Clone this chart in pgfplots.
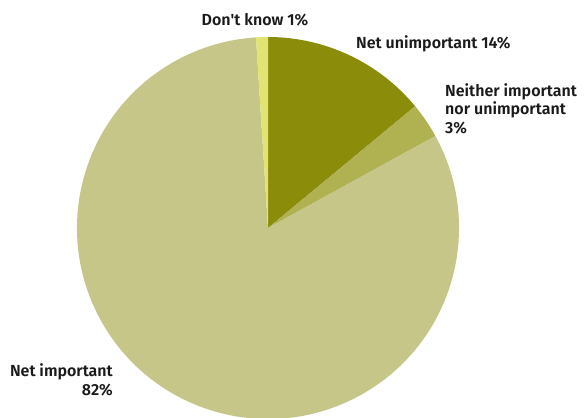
\documentclass[border=0pt]{standalone}
\usepackage{pgfplots}
\usepackage{pgfplotstable}
\pgfplotsset{compat=1.18}
\usepackage{fontspec}
\setmainfont{Fira Sans}[Ligatures=TeXOff, BoldFont={Fira Sans SemiBold}]
\definecolor{cUnimp}{RGB}{139,140,10}
\definecolor{cNeither}{RGB}{176,177,80}
\definecolor{cImp}{RGB}{197,198,135}
\definecolor{cDK}{RGB}{225,228,115}
\definecolor{txt}{RGB}{26,26,26}
\pgfplotstableread{
label value
unimp 14
neither 3
imp 82
dk 1
}\piedata
\begin{document}
\begin{tikzpicture}[x=1bp,y=1bp]
\useasboundingbox (0,0) rectangle (586,417);
\clip (0,0) rectangle (586,417);
\pgfplotstablegetelem{0}{value}\of\piedata \edef\vA{\pgfplotsretval}
\pgfplotstablegetelem{1}{value}\of\piedata \edef\vB{\pgfplotsretval}
\pgfplotstablegetelem{2}{value}\of\piedata \edef\vC{\pgfplotsretval}
\pgfplotstablegetelem{3}{value}\of\piedata \edef\vD{\pgfplotsretval}
\pgfmathsetmacro\aA{90}
\pgfmathsetmacro\aB{\aA-3.6*\vA}
\pgfmathsetmacro\aC{\aB-3.6*\vB}
\pgfmathsetmacro\aD{\aC-3.6*\vC}
\pgfmathsetmacro\aE{\aD-3.6*\vD}
\begin{axis}[
  at={(268,189)}, anchor=origin, x=1bp, y=1bp,
  xmin=-268, xmax=318, ymin=-189, ymax=228,
  hide axis, clip=false,
]
\fill[cUnimp] (axis cs:0,0) -- (axis cs:{191*cos(\aA)},{191*sin(\aA)}) arc[start angle=\aA, end angle=\aB, radius=191bp] -- cycle;
\fill[cNeither] (axis cs:0,0) -- (axis cs:{191*cos(\aB)},{191*sin(\aB)}) arc[start angle=\aB, end angle=\aC, radius=191bp] -- cycle;
\fill[cImp] (axis cs:0,0) -- (axis cs:{191*cos(\aC)},{191*sin(\aC)}) arc[start angle=\aC, end angle=\aD, radius=191bp] -- cycle;
\fill[cDK] (axis cs:0,0) -- (axis cs:{191*cos(\aD)},{191*sin(\aD)}) arc[start angle=\aD, end angle=\aE, radius=191bp] -- cycle;
\end{axis}
\begin{scope}[every node/.style={text=txt, font=\fontsize{16bp}{18.5bp}\selectfont\bfseries, inner sep=0pt}]
\node[anchor=base] at (255,391) {Don't know 1\%};
\node[anchor=base west] at (356,369) {Net unimportant 14\%};
\node[anchor=base west, align=left] at (445,284) {Neither important\\nor unimportant\\3\%};
\node[anchor=base east, align=right] at (113,22) {Net important\\82\%};
\end{scope}
\end{tikzpicture}
\end{document}
